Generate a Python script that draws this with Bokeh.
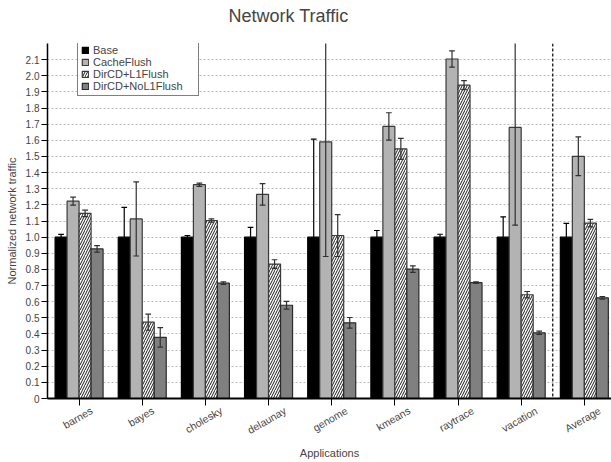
import math
import numpy as np
from bokeh.plotting import figure
from bokeh.models import Range1d, FixedTicker, Span, Legend, LinearAxis, Title
from bokeh.embed import file_html
from bokeh.resources import INLINE

# ---- data ----
apps = ["barnes", "bayes", "cholesky", "delaunay", "genome", "kmeans", "raytrace", "vacation", "Average"]
series_names = ["Base", "CacheFlush", "DirCD+L1Flush", "DirCD+NoL1Flush"]

base = [1.0, 1.0, 1.0, 1.0, 1.0, 1.0, 1.0, 1.0, 1.0]
base_err = [0.017, 0.184, 0.010, 0.060, 0.607, 0.041, 0.018, 0.126, 0.085]
cache = [1.223, 1.113, 1.325, 1.265, 1.590, 1.686, 2.104, 1.680, 1.501]
cache_err = [0.025, 0.230, 0.010, 0.067, 0.710, 0.085, 0.050, 0.606, 0.120]
l1 = [1.147, 0.473, 1.103, 0.833, 1.010, 1.547, 1.942, 0.643, 1.087]
l1_err = [0.020, 0.050, 0.010, 0.027, 0.130, 0.065, 0.028, 0.020, 0.023]
nol1 = [0.927, 0.379, 0.715, 0.578, 0.469, 0.802, 0.718, 0.407, 0.624]
nol1_err = [0.020, 0.060, 0.008, 0.024, 0.033, 0.020, 0.005, 0.010, 0.008]

y_ticks = [0, 0.1, 0.2, 0.3, 0.4, 0.5, 0.6, 0.7, 0.8, 0.9, 1.0,
           1.1, 1.2, 1.3, 1.4, 1.5, 1.6, 1.7, 1.8, 1.9, 2.0, 2.1]
y_tick_labels = ["0", "0.1", "0.2", "0.3", "0.4", "0.5", "0.6", "0.7", "0.8", "0.9", "1.0",
                 "1.1", "1.2", "1.3", "1.4", "1.5", "1.6", "1.7", "1.8", "1.9", "2.0", "2.1"]

FONT = "Liberation Sans"

W, H = 611, 462
BL, BR, BT, BB = 47, 0, 43, 64
X_END, Y_END = 8.93, 2.2
FRAME_W, FRAME_H = W - BL - BR, H - BT - BB

p = figure(width=W, height=H, output_backend="svg", toolbar_location=None,
           x_range=Range1d(0, X_END), y_range=Range1d(0, Y_END),
           frame_width=FRAME_W, frame_height=FRAME_H,
           min_border_left=BL, min_border_right=BR, min_border_top=BT, min_border_bottom=BB)
p.outline_line_color = None
p.background_fill_color = "white"

# spacer panel next to the frame, then the real title above it
p.add_layout(Title(text=" ", text_font_size="1px", standoff=15), "above")
p.add_layout(Title(text="Network Traffic", text_font=FONT, text_font_style="normal",
                   text_font_size="18px", align="left", offset=181, standoff=0), "above")

centers = np.arange(len(apps)) + 0.5
bw = 0.19
offsets = [-1.5 * bw, -0.5 * bw, 0.5 * bw, 1.5 * bw]

styles = [
    dict(fill_color="black", line_color="black"),
    dict(fill_color="#b3b3b3", line_color="#3a3a3a"),
    dict(fill_color="white", line_color="#3a3a3a", hatch_pattern="/", hatch_color="black",
         hatch_scale=5, hatch_weight=0.9),
    dict(fill_color="#808080", line_color="#2a2a2a"),
]
err_colors = ["black", "#303030", "#303030", "#303030"]
vals = [base, cache, l1, nol1]
errs = [base_err, cache_err, l1_err, nol1_err]

bar_renderers = []
for name, v, off, st in zip(series_names, vals, offsets, styles):
    r = p.vbar(x=centers + off, top=v, bottom=0, width=bw, line_width=1.2, **st)
    bar_renderers.append((name, r))

cap = 0.045
for v, e, off, ec in zip(vals, errs, offsets, err_colors):
    xs = centers + off
    v = np.array(v)
    e = np.array(e)
    p.segment(x0=xs, x1=xs, y0=v - e, y1=v + e, line_color=ec, line_width=1.2)
    p.segment(x0=xs - cap, x1=xs + cap, y0=v - e, y1=v - e, line_color=ec, line_width=1.2)
    p.segment(x0=xs - cap, x1=xs + cap, y0=v + e, y1=v + e, line_color=ec, line_width=1.2)

LEG_H = 53
legend = Legend(items=[(n, [r]) for n, r in bar_renderers], location=(30, FRAME_H - LEG_H))
legend.border_line_color = "black"
legend.border_line_width = 1
legend.background_fill_alpha = 1
legend.label_text_font = FONT
legend.label_text_font_size = "11px"
legend.glyph_width = 8
legend.glyph_height = 8
legend.label_height = 9
legend.label_width = 102
legend.spacing = -3
legend.padding = 3
legend.margin = 0
legend.label_standoff = 4
p.add_layout(legend, "center")

# separator before Average
p.add_layout(Span(location=8.0, dimension="height", line_color="black", line_dash="3 2", line_width=1.2))

# y axis
p.yaxis.ticker = FixedTicker(ticks=y_ticks)
p.yaxis.major_label_overrides = dict(zip(y_ticks, y_tick_labels))
p.yaxis.major_label_text_font = FONT
p.yaxis.major_label_text_font_size = "10px"
p.yaxis.major_tick_out = 6
p.yaxis.major_tick_in = 0
p.yaxis.minor_tick_line_color = None
p.yaxis.axis_line_width = 1.5
p.yaxis.major_label_standoff = 2
p.yaxis.axis_label = "Normalized network traffic"
p.yaxis.axis_label_text_font = FONT
p.yaxis.axis_label_text_font_style = "normal"
p.yaxis.axis_label_text_font_size = "11px"
p.yaxis.axis_label_standoff = 5

# x axis: tick marks only
p.xaxis.ticker = FixedTicker(ticks=list(centers))
p.xaxis.major_label_overrides = {float(c): "" for c in centers}
p.xaxis.major_label_text_font_size = "0px"
p.xaxis.major_label_standoff = 0
p.xaxis.major_tick_out = 7
p.xaxis.major_tick_in = 0
p.xaxis.minor_tick_line_color = None
p.xaxis.axis_line_width = 2

# second x axis carrying the rotated category names, centred under each tick
ANGLE = math.radians(30)
LABEL_PX = 10.5
cw = {"i": 0.222, "l": 0.222, "t": 0.278, "f": 0.278, "r": 0.333, "m": 0.833, "w": 0.722,
      "A": 0.667, "k": 0.5, "s": 0.5, "c": 0.5, "y": 0.5, "v": 0.5}
px_per_unit = FRAME_W / X_END
label_pos = []
for c, name in zip(centers, apps):
    width_px = sum(cw.get(ch, 0.556) for ch in name) * LABEL_PX
    label_pos.append(float(c + 0.45 * width_px * math.cos(ANGLE) / px_per_unit))

ax2 = LinearAxis(ticker=FixedTicker(ticks=label_pos),
                 major_label_overrides=dict(zip(label_pos, apps)))
ax2.major_label_orientation = ANGLE
ax2.major_label_text_font = FONT
ax2.major_label_text_font_size = "%gpx" % LABEL_PX
ax2.major_label_standoff = 4
ax2.axis_line_color = None
ax2.major_tick_line_color = None
ax2.minor_tick_line_color = None
ax2.major_tick_out = 0
ax2.major_tick_in = 0
ax2.axis_label = "Applications"
ax2.axis_label_text_font = FONT
ax2.axis_label_text_font_style = "normal"
ax2.axis_label_text_font_size = "11px"
ax2.axis_label_standoff = 3
p.add_layout(ax2, "below")

p.xgrid.grid_line_color = None
p.ygrid.grid_line_color = "#bdbdbd"
p.ygrid.grid_line_dash = "2 2"
p.ygrid.grid_line_width = 1

open("out.html", "w").write(file_html(p, INLINE))
